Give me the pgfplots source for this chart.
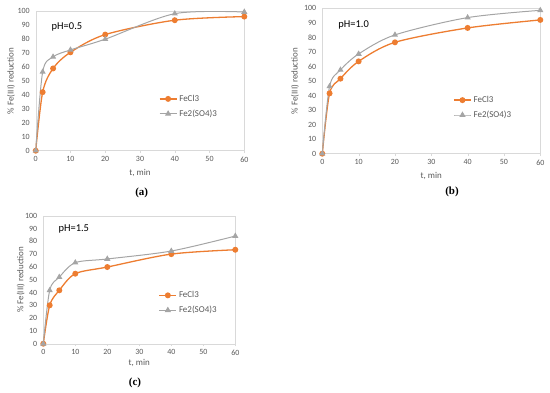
\documentclass[border=0pt]{standalone}
\usepackage{pgfplots}
\pgfplotsset{compat=1.18}
\usepackage{fontspec}
\setmainfont{Carlito}
\newfontfamily\serifb{Liberation Serif}
\definecolor{xorange}{RGB}{237,125,49}
\definecolor{xgray}{RGB}{165,165,165}
\definecolor{xbox}{RGB}{217,217,217}
\definecolor{xtext}{RGB}{89,89,89}
\pgfplotsset{
  panel/.style={
    scale only axis,
    anchor=south west,
    xmin=0, xmax=60, ymin=0, ymax=100,
    xtick={0,10,...,60}, ytick={0,10,...,100},
    axis line style={xbox},
    tick style={xbox},
    xtick pos=bottom, ytick pos=left,
    tick align=outside,
    major tick length=2.5bp,
    ytick style={draw=none},
    tick label style={font=\fontsize{8}{9}\selectfont, text=xtext},
    /pgf/number format/assume math mode=true,
    label style={font=\fontsize{9}{10}\selectfont, text=xtext},
    xlabel={t, min},
    ylabel={\% Fe(III) reduction},
    legend cell align=left,
    legend style={draw=none, fill=none, inner sep=0pt, anchor=north west, font=\fontsize{9}{10}\selectfont, text=xtext, row sep=3bp},
  },
  s1/.style={xorange, line width=1.3bp, smooth, mark=*, mark size=2.3bp, mark options={fill=xorange, draw=xorange}},
  s2/.style={xgray, line width=1bp, smooth, mark=triangle*, mark size=2.6bp, mark options={fill=xgray, draw=xgray}},
}
\begin{document}
\begin{tikzpicture}
\useasboundingbox (0,0) rectangle (550bp,393bp);
% (a)
\begin{axis}[panel, at={(35.7bp,242.3bp)}, width=208.6bp, height=139.4bp,
  xlabel style={at={(axis description cs:0.5,0)}, anchor=center, yshift=-22bp},
  ylabel style={at={(axis description cs:-0.118,0.5)}, anchor=center},
  legend style={at={(0.59,0.415)}}]
\addplot[s1] coordinates {(0,0) (2,42) (5,59) (10,70.6) (20,83.3) (40,93.6) (60,96.2)};
\addplot[s2] coordinates {(0,0) (2,56.5) (5,67.3) (10,72.3) (20,80) (40,98.3) (60,99.5)};
\legend{FeCl3, Fe2(SO4)3}
\node[anchor=west, font=\fontsize{10.5}{12}\selectfont, text=black] at (rel axis cs:0.06,0.885) {pH=0.5};
\end{axis}
% (b)
\begin{axis}[panel, at={(322.3bp,239.3bp)}, width=218bp, height=145.4bp,
  xlabel style={at={(axis description cs:0.5,0)}, anchor=center, yshift=-22bp},
  ylabel style={at={(axis description cs:-0.125,0.5)}, anchor=center},
  legend style={at={(0.6,0.41)}}]
\addplot[s1] coordinates {(0,0) (2,41.5) (5,51.6) (10,63.5) (20,76.6) (40,86.5) (60,92)};
\addplot[s2] coordinates {(0,0) (2,46.3) (5,57.6) (10,68.6) (20,81.7) (40,93.6) (60,98.6)};
\legend{FeCl3, Fe2(SO4)3}
\node[anchor=west, font=\fontsize{10.5}{12}\selectfont, text=black] at (rel axis cs:0.058,0.885) {pH=1.0};
\end{axis}
% (c)
\begin{axis}[panel, at={(43.3bp,49.3bp)}, width=192bp, height=128bp,
  xlabel style={at={(axis description cs:0.5,0)}, anchor=center, yshift=-19bp},
  ylabel style={at={(axis description cs:-0.118,0.5)}, anchor=center},
  legend style={at={(0.6,0.425)}}]
\addplot[s1] coordinates {(0,0) (2,30) (5,41.7) (10,54.7) (20,59.9) (40,70) (60,73.4)};
\addplot[s2] coordinates {(0,0) (2,41.7) (5,52) (10,63.3) (20,66.2) (40,72.4) (60,84.1)};
\legend{FeCl3, Fe2(SO4)3}
\node[anchor=west, font=\fontsize{10.5}{12}\selectfont, text=black] at (rel axis cs:0.061,0.894) {pH=1.5};
\end{axis}
\node[font=\serifb\bfseries\fontsize{11}{12}\selectfont] at (141.7bp,200bp) {(a)};
\node[font=\serifb\bfseries\fontsize{11}{12}\selectfont] at (452bp,201bp) {(b)};
\node[font=\serifb\bfseries\fontsize{11}{12}\selectfont] at (135bp,10.3bp) {(c)};
\end{tikzpicture}
\end{document}
